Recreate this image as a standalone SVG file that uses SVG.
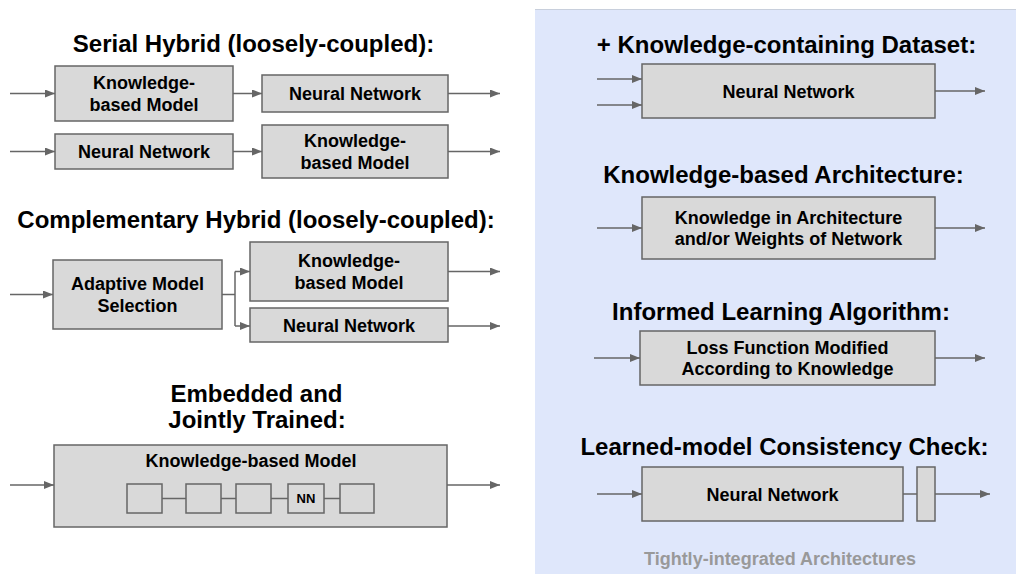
<svg xmlns="http://www.w3.org/2000/svg" width="1016" height="574" viewBox="0 0 1016 574">
<style>
.bx{fill:#d9d9d9;stroke:#666;stroke-width:1.5}
.t{font-family:"Liberation Sans",Arial,sans-serif;font-weight:bold;font-size:18px;fill:#000;text-anchor:middle}
.h{font-family:"Liberation Sans",Arial,sans-serif;font-weight:bold;font-size:24px;fill:#000;text-anchor:middle}
.s{font-family:"Liberation Sans",Arial,sans-serif;font-weight:bold;font-size:13px;fill:#000;text-anchor:middle}
.c{stroke:#666;stroke-width:1.5;fill:none}
.a{stroke:#666;stroke-width:1.5;fill:none;marker-end:url(#ah)}
</style>
<defs>
<marker id="ah" viewBox="0 0 10 8" refX="10" refY="4" markerWidth="10" markerHeight="8" markerUnits="userSpaceOnUse" orient="auto">
<path d="M0,0 L10,4 L0,8 Z" fill="#666"/>
</marker>
</defs>
<rect width="1016" height="574" fill="#fff"/>
<g id="panel">
<rect x="535" y="9" width="481" height="565" fill="#dfe7fb"/>
<line x1="535" y1="9.5" x2="1016" y2="9.5" stroke="#c8cfdc" stroke-width="1"/>
<text x="780" y="565" style="font-family:'Liberation Sans',Arial,sans-serif;font-weight:bold;font-size:18px;fill:#999;text-anchor:middle">Tightly-integrated Architectures</text>
</g>
<g id="titles">
<text class="h" x="253.5" y="52">Serial Hybrid (loosely-coupled):</text>
<text class="h" x="256" y="228">Complementary Hybrid (loosely-coupled):</text>
<text class="h" x="256.5" y="402">Embedded and</text>
<text class="h" x="257" y="428">Jointly Trained:</text>
<text class="h" x="786.5" y="53">+ Knowledge-containing Dataset:</text>
<text class="h" x="783.5" y="183">Knowledge-based Architecture:</text>
<text class="h" x="781" y="320">Informed Learning Algorithm:</text>
<text class="h" x="784.5" y="455">Learned-model Consistency Check:</text>
</g>
<g id="e-kbm">
<rect class="bx" x="54" y="445" width="393" height="82"/>
<text class="t" x="251" y="467">Knowledge-based Model</text>
</g>
<g id="connectors">
<line class="a" x1="10" y1="93.5" x2="55" y2="93.5"/>
<line class="a" x1="233" y1="93.5" x2="262" y2="93.5"/>
<line class="a" x1="448" y1="93.5" x2="500" y2="93.5"/>
<line class="a" x1="10" y1="151.5" x2="55" y2="151.5"/>
<line class="a" x1="233" y1="151.5" x2="262" y2="151.5"/>
<line class="a" x1="448" y1="151.5" x2="500" y2="151.5"/>
<line class="a" x1="10" y1="294.5" x2="53" y2="294.5"/>
<line class="c" x1="222" y1="294.5" x2="235" y2="294.5"/>
<line class="c" x1="235" y1="271.5" x2="235" y2="326"/>
<line class="a" x1="235" y1="271.5" x2="250" y2="271.5"/>
<line class="a" x1="235" y1="326" x2="250" y2="326"/>
<line class="a" x1="448" y1="271.5" x2="500" y2="271.5"/>
<line class="a" x1="448" y1="326" x2="500" y2="326"/>
<line class="a" x1="10" y1="485" x2="54" y2="485"/>
<line class="a" x1="447" y1="485" x2="500" y2="485"/>
<line class="c" x1="162" y1="498.5" x2="186" y2="498.5"/>
<line class="c" x1="221" y1="498.5" x2="236" y2="498.5"/>
<line class="c" x1="271" y1="498.5" x2="288" y2="498.5"/>
<line class="c" x1="324" y1="498.5" x2="340" y2="498.5"/>
<line class="a" x1="597" y1="79" x2="642" y2="79"/>
<line class="a" x1="597" y1="105" x2="642" y2="105"/>
<line class="a" x1="935" y1="91" x2="985" y2="91"/>
<line class="a" x1="597" y1="228" x2="642" y2="228"/>
<line class="a" x1="935" y1="228" x2="985" y2="228"/>
<line class="a" x1="594" y1="358" x2="640" y2="358"/>
<line class="a" x1="935" y1="358" x2="985" y2="358"/>
<line class="a" x1="597" y1="494" x2="642" y2="494"/>
<line class="c" x1="903" y1="494" x2="917" y2="494"/>
<line class="a" x1="935" y1="494" x2="990" y2="494"/>
</g>
<g id="s1-kbm">
<rect class="bx" x="55" y="66" width="178" height="55"/>
<text class="t" x="144" y="89.25">Knowledge-</text>
<text class="t" x="144" y="110.75">based Model</text>
</g>
<g id="s1-nn">
<rect class="bx" x="262" y="75" width="186" height="37"/>
<text class="t" x="355" y="100">Neural Network</text>
</g>
<g id="s2-nn">
<rect class="bx" x="55" y="134" width="178" height="35"/>
<text class="t" x="144" y="158">Neural Network</text>
</g>
<g id="s2-kbm">
<rect class="bx" x="262" y="125" width="186" height="53"/>
<text class="t" x="355" y="147.25">Knowledge-</text>
<text class="t" x="355" y="168.75">based Model</text>
</g>
<g id="c-ams">
<rect class="bx" x="53" y="260" width="169" height="69"/>
<text class="t" x="137.5" y="290.25">Adaptive Model</text>
<text class="t" x="137.5" y="311.75">Selection</text>
</g>
<g id="c-kbm">
<rect class="bx" x="250" y="242" width="198" height="59"/>
<text class="t" x="349" y="267.25">Knowledge-</text>
<text class="t" x="349" y="288.75">based Model</text>
</g>
<g id="c-nn">
<rect class="bx" x="250" y="308" width="198" height="34"/>
<text class="t" x="349" y="331.5">Neural Network</text>
</g>
<g id="e-b1"><rect class="bx" x="127" y="484" width="35" height="29"/></g>
<g id="e-b2"><rect class="bx" x="186" y="484" width="35" height="29"/></g>
<g id="e-b3"><rect class="bx" x="236" y="484" width="35" height="29"/></g>
<g id="e-nn"><rect class="bx" x="288" y="484" width="36" height="29"/><text class="s" x="306" y="503">NN</text></g>
<g id="e-b5"><rect class="bx" x="340" y="484" width="34" height="29"/></g>
<g id="r-dataset">
<rect class="bx" x="642" y="64" width="293" height="54"/>
<text class="t" x="788.5" y="97.5">Neural Network</text>
</g>
<g id="r-arch">
<rect class="bx" x="642" y="197" width="293" height="62"/>
<text class="t" x="788.5" y="223.75">Knowledge in Architecture</text>
<text class="t" x="788.5" y="245.25">and/or Weights of Network</text>
</g>
<g id="r-loss">
<rect class="bx" x="640" y="331" width="295" height="54"/>
<text class="t" x="787.5" y="353.75">Loss Function Modified</text>
<text class="t" x="787.5" y="375.25">According to Knowledge</text>
</g>
<g id="r-nn">
<rect class="bx" x="642" y="467" width="261" height="54"/>
<text class="t" x="772.5" y="500.5">Neural Network</text>
</g>
<g id="r-check">
<rect class="bx" x="917" y="467" width="18" height="54"/>
</g>
</svg>
